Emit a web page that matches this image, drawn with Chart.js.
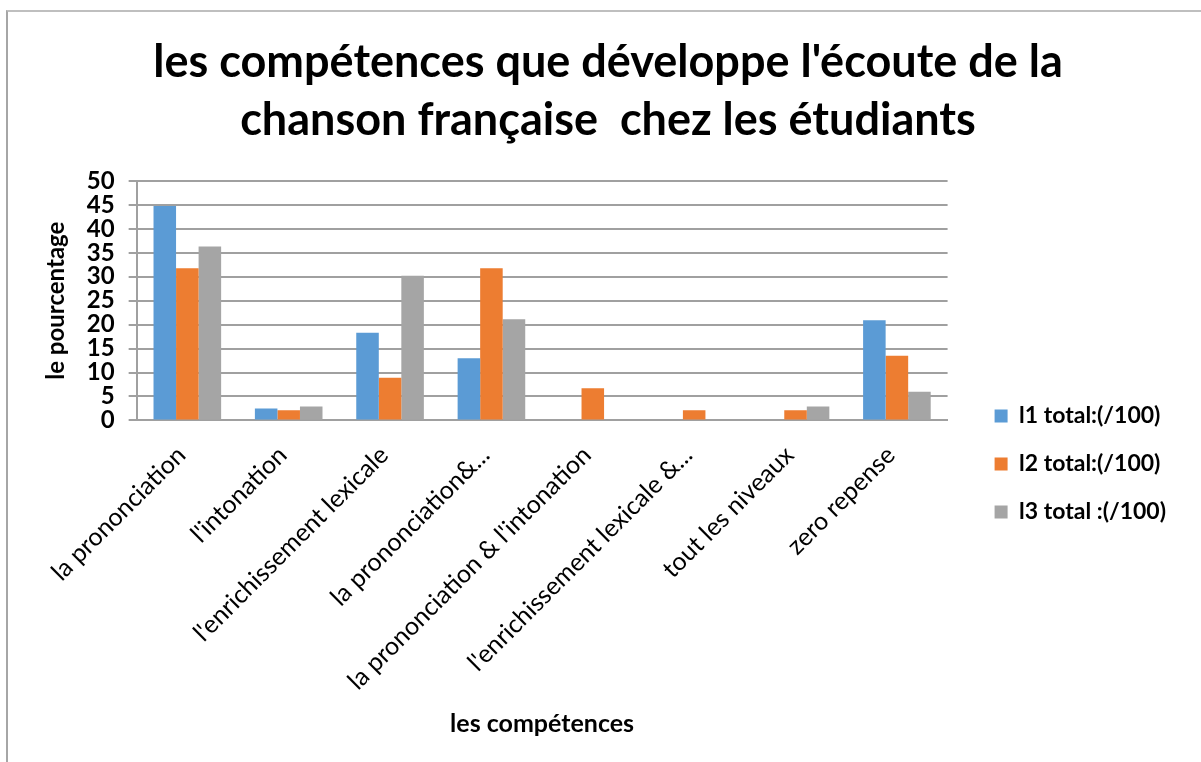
<!DOCTYPE html>
<html>
<head>
<meta charset="utf-8">
<script src="https://cdn.jsdelivr.net/npm/chart.js@4"></script>
<style>
  html, body { margin: 0; padding: 0; background: #fff; }
  #wrap { position: relative; width: 1201px; height: 762px; overflow: hidden; }
  #frame {
    position: absolute; left: 6px; top: 10px; width: 1300px; height: 900px;
    border-left: 2px solid #a6a6a6; border-top: 2px solid #bfbfbf;
  }
  canvas { position: absolute; left: 0; top: 0; }
</style>
</head>
<body>
<div id="wrap">
  <div id="frame"></div>
  <canvas id="chart" width="1201" height="762"></canvas>
</div>
<script>
const labels = [
  "la prononciation",
  "l'intonation",
  "l'enrichissement lexicale",
  "la prononciation&...",
  "la prononciation & l'intonation",
  "l'enrichissement lexicale &...",
  "tout les niveaux",
  "zero repense",
];

const l1 = [44.8, 2.5, 18.3, 13.0, 0, 0, 0, 20.9];
const l2 = [31.8, 2.1, 8.9, 31.8, 6.7, 2.1, 2.1, 13.5];
const l3 = [36.3, 2.9, 30.2, 21.1, 0, 0, 2.9, 6.0];

const seriesNames = ["l1 total:(/100)", "l2 total:(/100)", "l3 total :(/100)"];
const yTicks = [0, 5, 10, 15, 20, 25, 30, 35, 40, 45, 50];

const FONT = "Lato, 'Open Sans', sans-serif";

const makeSet = (name, values, color) => ({
  label: name,
  data: values,
  backgroundColor: color,
  borderWidth: 0,
  categoryPercentage: 0.667,
  barPercentage: 1.0,
});

// push the legend a bit away from the plot and down to where the original sits
const LEGEND_DX = 22;
const LEGEND_DY = 87;
const legendShift = {
  id: "legendShift",
  beforeInit(chart) {
    const legend = chart.legend;
    const fit = legend.fit;
    legend.fit = function () {
      fit.call(this);
      this.width += LEGEND_DX;
    };
  },
  afterLayout(chart) {
    const legend = chart.legend;
    legend.left += LEGEND_DX;
    legend.top += LEGEND_DY;
    legend.bottom += LEGEND_DY;
  },
};

const ctx = document.getElementById("chart").getContext("2d");
const chart = new Chart(ctx, {
  type: "bar",
  data: {
    labels: labels,
    datasets: [
      makeSet(seriesNames[0], l1, "#5B9BD5"),
      makeSet(seriesNames[1], l2, "#ED7D31"),
      makeSet(seriesNames[2], l3, "#A5A5A5"),
    ],
  },
  plugins: [legendShift],
  options: {
    responsive: false,
    animation: false,
    layout: {
      padding: { left: 40, right: 25, top: 10, bottom: 18 },
    },
    scales: {
      x: {
        grid: { display: false },
        border: { display: true, color: "#a0a0a0", width: 2 },
        ticks: {
          color: "#000",
          font: { family: FONT, size: 25 },
          maxRotation: 45,
          minRotation: 45,
          autoSkip: false,
          padding: 12,
          labelOffset: -6,
        },
        title: {
          display: true,
          text: "les compétences",
          color: "#000",
          font: { family: FONT, size: 25, weight: "bold" },
          padding: { top: 1, bottom: 5 },
        },
      },
      y: {
        min: 0,
        max: 50,
        afterBuildTicks: (axis) => {
          axis.ticks = yTicks.map((v) => ({ value: v }));
        },
        grid: { color: "#a0a0a0", lineWidth: 2, tickLength: 8 },
        border: { display: true, color: "#a0a0a0", width: 2 },
        ticks: {
          color: "#000",
          autoSkip: false,
          font: { family: FONT, size: 24, weight: "bold", lineHeight: 1 },
          padding: 14,
        },
        title: {
          display: true,
          text: "le pourcentage",
          color: "#000",
          font: { family: FONT, size: 24, weight: "bold" },
          padding: 2,
        },
      },
    },
    plugins: {
      title: {
        display: true,
        text: [
          "les compétences que développe l'écoute de la",
          "chanson française  chez les étudiants",
        ],
        color: "#000",
        font: { family: FONT, size: 45, weight: "bold", lineHeight: 1.3 },
        padding: { top: 23, bottom: 31 },
      },
      legend: {
        position: "right",
        labels: {
          color: "#000",
          boxWidth: 13,
          boxHeight: 13,
          padding: 25,
          font: { family: FONT, size: 23, weight: "bold" },
        },
      },
      tooltip: { enabled: false },
    },
  },
});
</script>
</body>
</html>
